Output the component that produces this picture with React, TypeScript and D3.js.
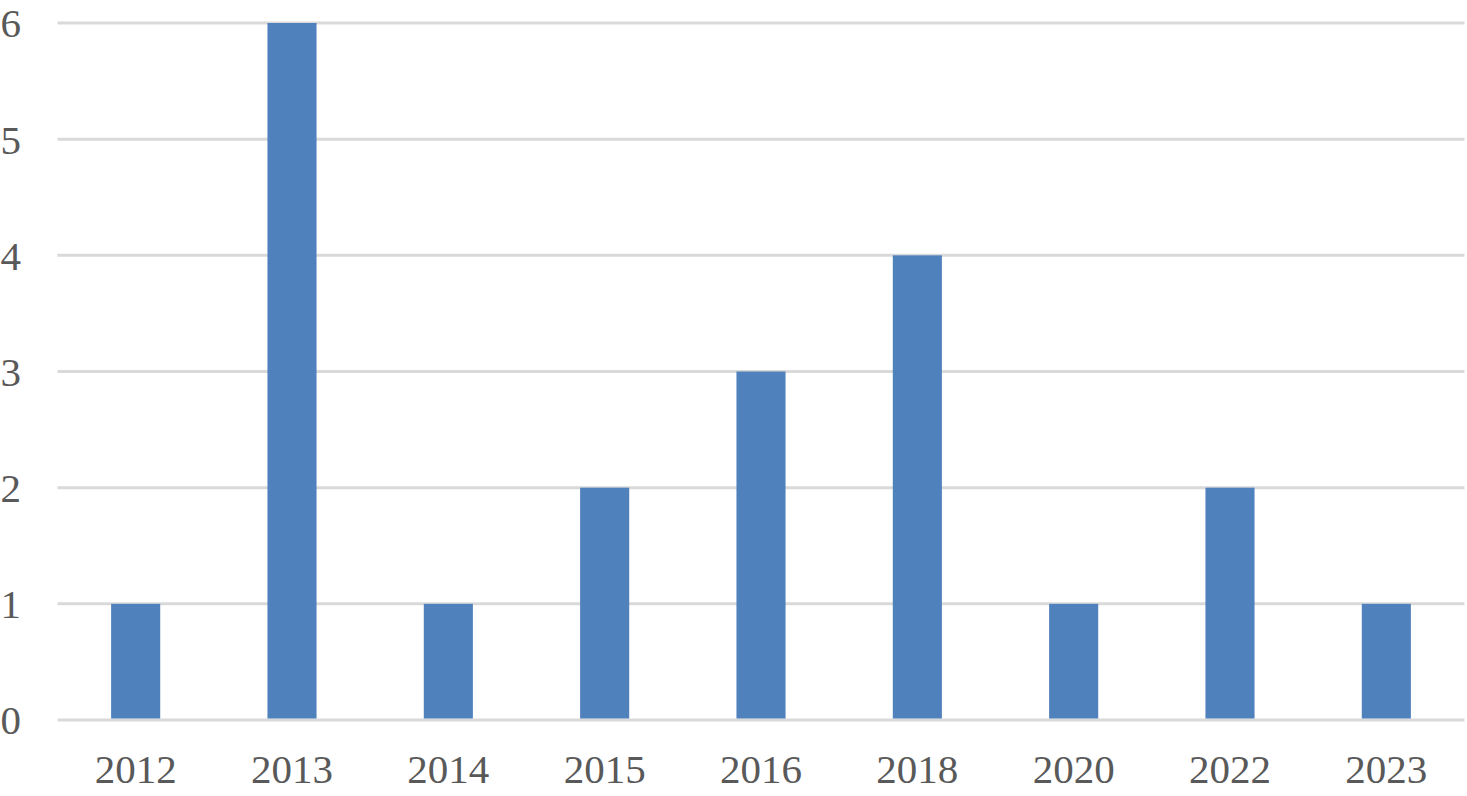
import React from "react";
import * as d3 from "d3";

const categories = ["2012", "2013", "2014", "2015", "2016", "2018", "2020", "2022", "2023"];
const values = [1, 6, 1, 2, 3, 4, 1, 2, 1];
const yTicks = [0, 1, 2, 3, 4, 5, 6];

export default function App() {
  const W = 1467, H = 796;
  const x0 = 57.5, x1 = 1464.5, yTop = 23, yBottom = 720;
  const x = d3.scaleBand<string>().domain(categories).range([x0, x1]).paddingInner(0.686).paddingOuter(0.343);
  const y = d3.scaleLinear().domain([0, 6]).range([yBottom, yTop]);
  const font = "'Liberation Serif', 'Times New Roman', serif";
  return (
    <svg width={W} height={H} style={{ position: "absolute", left: 0, top: 0, background: "#fff" }}>
      {yTicks.map((t) => (
        <line key={"g" + t} x1={x0} x2={x1} y1={y(t)} y2={y(t)} stroke="#d9d9d9" strokeWidth={3} />
      ))}
      {categories.map((c, i) => (
        <rect key={c} x={x(c)!} width={x.bandwidth()} y={y(values[i])} height={y(0) - y(values[i]) - 1.5} fill="#4f81bd" />
      ))}
      {yTicks.map((t) => (
        <text key={"t" + t} x={21} y={y(t)} dy="0.35em" textAnchor="end" fontFamily={font} fontSize={41} fill="#595959">
          {t}
        </text>
      ))}
      {categories.map((c) => (
        <text key={"x" + c} x={x(c)! + x.bandwidth() / 2} y={783} textAnchor="middle" fontFamily={font} fontSize={41} fill="#595959">
          {c}
        </text>
      ))}
    </svg>
  );
}
